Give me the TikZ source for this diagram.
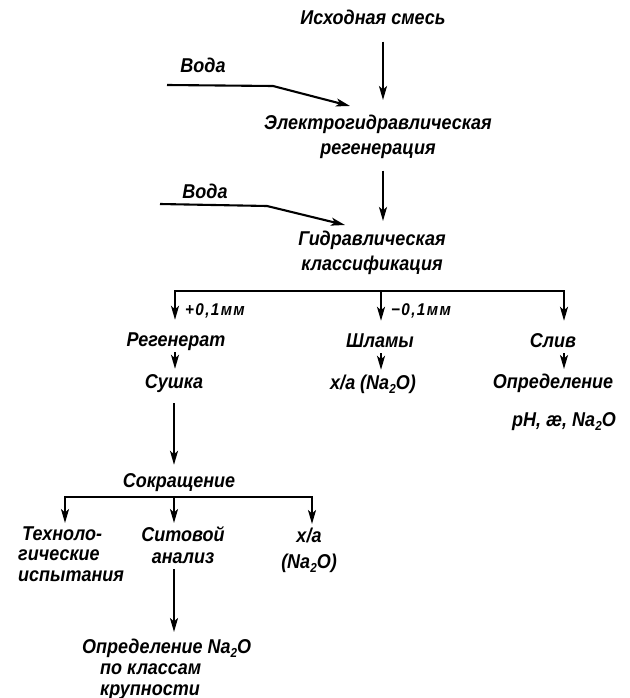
\documentclass[tikz,border=0pt]{standalone}
\usepackage{fontspec}
\setmainfont{Liberation Sans}[FakeStretch=0.9]
\usetikzlibrary{arrows.meta}
\newcommand\lowidx[1]{\raisebox{-0.45ex}{\fontsize{13}{13}\selectfont #1}}
\begin{document}
\begin{tikzpicture}[x=1pt,y=-1pt,
  lbl/.style={font=\fontsize{20}{25}\selectfont\bfseries\itshape,inner sep=0pt},
  one/.style={lbl,text height=14.5pt,text depth=4.5pt},
  sp/.style={font=\fontsize{20}{#1}\selectfont\bfseries\itshape},
  sml/.style={font=\fontsize{17}{18}\selectfont\bfseries\itshape\addfontfeature{LetterSpace=8},inner sep=0pt},
  arr/.style={line width=2.1pt,-{Stealth[length=14pt,width=8pt,inset=3.5pt]}},
  bus/.style={line width=2.1pt}]
\useasboundingbox (0,0) rectangle (629,698);
% columns
\coordinate (c0) at (383,0);
\coordinate (b1) at (175,291);
\coordinate (b2) at (381,291);
\coordinate (b3) at (564,291);
\coordinate (d1) at (65,497);
\coordinate (d2) at (174,497);
\coordinate (d3) at (312,497);
\coordinate (w1) at (167,85);
\coordinate (w2) at (160,204);
% nodes
\node[one] (isx) at (373,20) {Исходная смесь};
\node[one] (voda1) at (203,68) {Вода};
\node[lbl,align=center,anchor=north] (ehr) at (378,114.5) {Электрогидравлическая\\регенерация};
\node[one] (voda2) at (205,193) {Вода};
\node[lbl,align=center,anchor=north] (gk) at (372,230.5) {Гидравлическая\\классификация};
\node[sml] (p01) at (215,311) {+0,1мм};
\node[sml] (m01) at (421,311) {−0,1мм};
\node[one] (reg) at (176,341) {Регенерат};
\node[one] (shl) at (380,342) {Шламы};
\node[one] (sliv) at (553,342) {Слив};
\node[one] (sush) at (174,383) {Сушка};
\node[one] (xa1) at (373,384) {х/а (Na\lowidx{2}O)};
\node[lbl,sp=38,align=center,anchor=north] (opr1) at (553,373.5) {Определение\\\hspace*{22pt}pH, æ, Na\lowidx{2}O};
\node[one] (sokr) at (179,482) {Сокращение};
\node[lbl,sp=20.5,align=left,anchor=north west] (tech) at (18,526.5) {\hspace*{4pt}Техноло-\\гические\\испытания};
\node[lbl,sp=22,align=center,anchor=north] (sit) at (183,526.5) {Ситовой\\анализ};
\node[lbl,sp=26,align=center,anchor=north] (xa2) at (309,527.5) {х/а\\(Na\lowidx{2}O)};
\node[lbl,sp=21,align=left,anchor=north west] (oprN) at (82,638.5) {Определение Na\lowidx{2}O\\\hspace*{18pt}по классам\\\hspace*{18pt}крупности};
% connectors
\draw[arr,shorten <=12pt,shorten >=14.5pt] (isx.south -| c0) -- (ehr.north -| c0);
\draw[arr] (w1) -- (273,86) -- ([xshift=-28pt,yshift=8.5pt]ehr.north);
\draw[arr,shorten <=12pt,shorten >=9.5pt] (ehr.south -| c0) -- (gk.north -| c0);
\draw[arr] (w2) -- (267,206) -- ([xshift=-27pt,yshift=5.5pt]gk.north);
\draw[arr,shorten >=11.5pt] (b2) -- (b1) -- (reg.north -| b1);
\draw[arr,shorten >=11.5pt] (b2) -- (b3) -- (sliv.north -| b3);
\draw[arr,shorten >=11.5pt] (b2) -- (shl.north -| b2);
\draw[arr,shorten <=1.5pt,shorten >=4.5pt] (reg.south -| b1) -- (sush.north -| b1);
\draw[arr,shorten <=1.5pt,shorten >=4.5pt] (shl.south -| b2) -- (xa1.north -| b2);
\draw[arr,shorten <=1.5pt,shorten >=4.5pt] (sliv.south -| b3) -- (opr1.north -| b3);
\draw[arr,shorten <=10.5pt,shorten >=7.5pt] (sush.south -| d2) -- (sokr.north -| d2);
\draw[arr,shorten >=3.5pt] (d2) -- (d1) -- (tech.north -| d1);
\draw[arr,shorten >=3.5pt] (d2) -- (d3) -- (xa2.north -| d3);
\draw[arr,shorten >=3.5pt] (d2) -- (sit.north -| d2);
\draw[arr,shorten <=5pt,shorten >=6.5pt] (sit.south -| d2) -- (oprN.north -| d2);
\end{tikzpicture}
\end{document}
